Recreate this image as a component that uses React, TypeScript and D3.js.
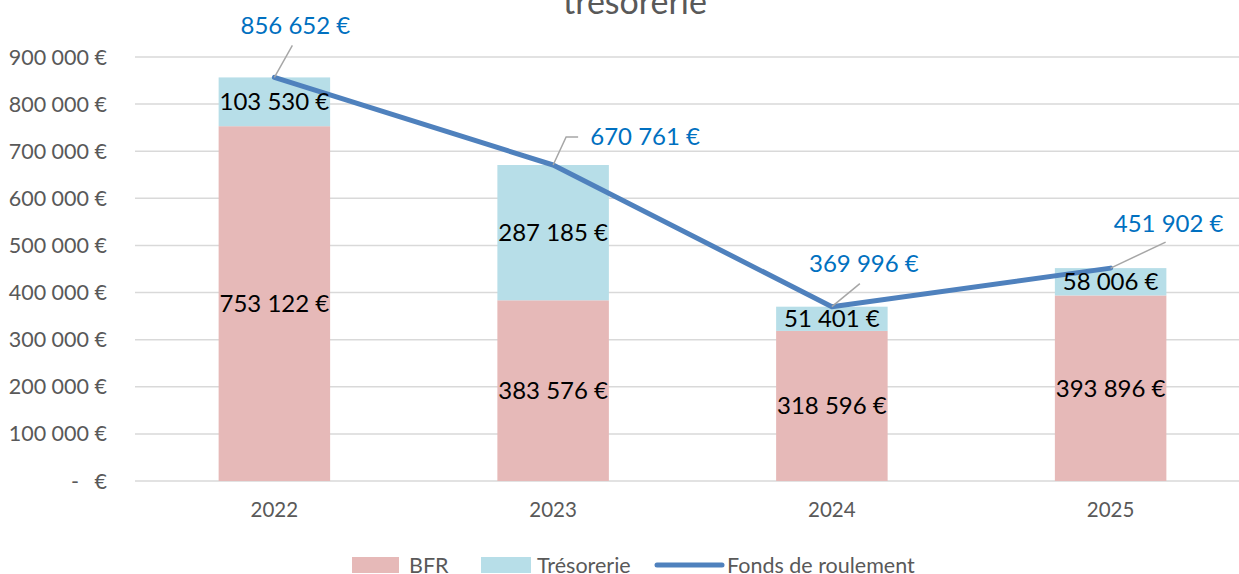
import * as d3 from "d3";
import { useEffect } from "react";

const categories = ["2022", "2023", "2024", "2025"];
const bfr = [753122, 383576, 318596, 393896];
const tresorerie = [103530, 287185, 51401, 58006];
const fondsRoulement = [856652, 670761, 369996, 451902];
const yTicks = [0, 100000, 200000, 300000, 400000, 500000, 600000, 700000, 800000, 900000];

// where the blue labels sit, relative to their point (label centre, leader path)
const flLabelPos = [
  { dx: 21, dy: -52, leader: [[0, 0], [18, -32]] },
  { dx: 92, dy: -28, leader: [[0, 0], [13, -28], [25, -28]] },
  { dx: 32, dy: -43, leader: [[0, 0], [28, -23]] },
  { dx: 58, dy: -45, leader: [[0, 0], [55, -26]] },
];

const W = 1239;
const H = 574;
const FONT = "Lato, 'Open Sans', sans-serif";

const fmt = (v: number) =>
  d3.format(",")(v).replace(/,/g, " ") + " €";

const App = () => {
  useEffect(() => {
    document.body.style.margin = "0";
  }, []);

  const x = d3.scaleBand<string>()
    .domain(categories)
    .range([135, 1250])
    .paddingInner(0.6)
    .paddingOuter(0.3);

  const y = d3.scaleLinear()
    .domain([0, 900000])
    .range([481, 57]);

  const cx = (c: string) => (x(c) ?? 0) + x.bandwidth() / 2;

  const line = d3.line<number>()
    .x((d, i) => cx(categories[i]))
    .y(d => y(d));

  return (
    <svg width={W} height={H} style={{ display: "block", fontFamily: FONT }}>
      <rect width={W} height={H} fill="#fff" />
      <text x={635} y={14} textAnchor="middle" fontSize={34} fill="#595959">trésorerie</text>

      {/* gridlines + y ticks */}
      {yTicks.map(t => (
        <g key={t}>
          <line x1={135} x2={W} y1={y(t)} y2={y(t)} stroke="#d9d9d9" strokeWidth={1.5} />
          {t === 0 ? (
            <>
              <text x={79} y={y(t)} dy="0.35em" textAnchor="end" fontSize={21.5} fill="#595959">-</text>
              <text x={107} y={y(t)} dy="0.35em" textAnchor="end" fontSize={21.5} fill="#595959">€</text>
            </>
          ) : (
            <text x={107} y={y(t)} dy="0.35em" textAnchor="end" fontSize={21.5} fill="#595959">{fmt(t)}</text>
          )}
        </g>
      ))}

      {/* stacked bars */}
      {categories.map((c, i) => (
        <g key={c}>
          <rect x={x(c)} y={y(bfr[i])} width={x.bandwidth()} height={y(0) - y(bfr[i])} fill="#e6b9b8" />
          <rect x={x(c)} y={y(bfr[i] + tresorerie[i])} width={x.bandwidth()}
            height={y(bfr[i]) - y(bfr[i] + tresorerie[i])} fill="#b7dee8" />
          <text x={cx(c)} y={510} dy="0.35em" textAnchor="middle" fontSize={20.5} fill="#595959">{c}</text>
        </g>
      ))}

      {/* fonds de roulement line */}
      <path d={line(fondsRoulement) ?? ""} fill="none" stroke="#4f81bd" strokeWidth={5}
        strokeLinecap="round" strokeLinejoin="round" />

      {/* bar labels */}
      {categories.map((c, i) => (
        <g key={"l" + c}>
          <text x={cx(c)} y={(y(0) + y(bfr[i])) / 2} dy="0.35em" textAnchor="middle" fontSize={24} fill="#000">
            {fmt(bfr[i])}
          </text>
          <text x={cx(c)} y={(y(bfr[i]) + y(bfr[i] + tresorerie[i])) / 2} dy="0.35em" textAnchor="middle"
            fontSize={24} fill="#000">
            {fmt(tresorerie[i])}
          </text>
        </g>
      ))}

      {/* line labels with leaders */}
      {categories.map((c, i) => {
        const px = cx(c);
        const py = y(fondsRoulement[i]);
        const p = flLabelPos[i];
        const leader = d3.line()(p.leader.map(([a, b]) => [px + a, py + b] as [number, number])) ?? "";
        return (
          <g key={"fr" + c}>
            <path d={leader} fill="none" stroke="#a6a6a6" strokeWidth={1.5} />
            <text x={px + p.dx} y={py + p.dy} dy="0.35em" textAnchor="middle" fontSize={24} fill="#0070c0">
              {fmt(fondsRoulement[i])}
            </text>
          </g>
        );
      })}

      {/* legend */}
      <g fontSize={21.5} fill="#595959">
        <rect x={352} y={557} width={47} height={16} fill="#e6b9b8" />
        <text x={409} y={565} dy="0.35em">BFR</text>
        <rect x={481} y={557} width={50} height={16} fill="#b7dee8" />
        <text x={537} y={565} dy="0.35em">Trésorerie</text>
        <line x1={657} x2={722} y1={565} y2={565} stroke="#4f81bd" strokeWidth={5} strokeLinecap="round" />
        <text x={727} y={565} dy="0.35em">Fonds de roulement</text>
      </g>
    </svg>
  );
};

export default App;
